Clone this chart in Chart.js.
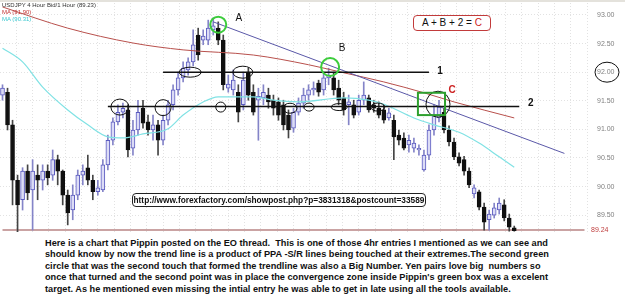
<!DOCTYPE html>
<html><head><meta charset="utf-8">
<script src="https://cdn.jsdelivr.net/npm/chart.js@4.4.1/dist/chart.umd.min.js"></script>
<style>
html,body{margin:0;padding:0;background:#fff;}
#wrap{position:relative;width:625px;height:306px;overflow:hidden;background:#fff;font-family:"Liberation Sans",Arial,sans-serif;}
#c{position:absolute;left:0;top:0;}
#strip{position:absolute;left:0;top:0;width:625px;height:2px;background:#e4e2dc;}
.leg{position:absolute;left:2px;font-size:6px;line-height:7px;white-space:nowrap;}
#eq{position:absolute;left:413px;top:15px;width:76px;height:14px;border:1.5px solid #c23b3b;border-radius:4px;font-size:10px;line-height:14px;text-align:center;color:#111;background:#fff;}
#url{position:absolute;left:132px;top:193px;width:292px;height:12px;border:1.5px solid #222;border-radius:4px;font-size:8.3px;font-weight:bold;line-height:12px;text-align:center;background:#fff;color:#111;}
#txt{position:absolute;left:45px;top:237.5px;font-size:9.2px;font-weight:bold;line-height:11.5px;white-space:pre;color:#111;}
</style></head>
<body><div id="wrap">
<canvas id="c" width="625" height="232"></canvas>
<div id="strip"></div>
<div class="leg" style="top:2px;color:#333">USDJPY 4 Hour Bid/1 Hour (89.23)</div>
<div class="leg" style="top:9px;color:#c03030">MA (91.90)</div>
<div class="leg" style="top:16px;color:#3cc8d0">MA (90.31)</div>
<div id="eq">A + B + 2 = <span style="color:#cc2222">C</span></div>
<div id="url">http://www.forexfactory.com/showpost.php?p=3831318&amp;postcount=33589</div>
<div id="txt">Here is a chart that Pippin posted on the EO thread.  This is one of those 4hr entries I mentioned as we can see and
should know by now the trend line is a product of PPA -S/R lines being touched at their extremes.The second green
circle that was the second touch that formed the trendline was also a Big Number. Yen pairs love big  numbers so
once that turned and the second point was in place the convergence zone inside Pippin's green box was a excelent
target. As he mentioned even missing the intial entry he was able to get in late using all the tools available.</div>
</div>
<script>
// ---- data (USDJPY 4h candles) ----
const opens  = [91.60,91.65,91.08,90.11,89.77,90.27,89.94,90.20,90.11,90.27,90.20,90.47,90.27,89.85,89.59,89.85,90.20,90.33,90.11,89.91,
                89.94,90.38,90.81,91.13,91.30,91.34,90.67,90.99,91.37,91.13,90.99,91.08,90.81,91.16,91.43,91.69,91.90,92.04,92.18,92.65,
                92.56,92.56,92.74,92.77,92.56,91.72,91.69,91.65,91.43,92.00,91.65,91.51,91.55,91.60,91.51,91.48,91.43,91.25,91.02,91.30,
                91.46,91.60,91.69,91.81,91.69,91.90,91.90,91.72,91.55,91.43,91.43,91.30,91.51,91.55,91.43,91.37,91.34,91.20,91.16,90.90,
                90.85,90.73,90.67,90.64,90.29,90.55,90.99,91.20,91.30,90.99,90.78,90.52,90.47,90.27,89.87,89.91,89.64,89.42,89.50,89.59,
                89.68,89.45,89.28];
const closes = [91.72,91.08,90.11,89.68,90.27,89.89,90.27,90.11,90.27,90.15,90.47,90.27,89.85,89.54,89.85,90.20,90.27,90.11,89.91,89.98,
                90.38,90.81,91.13,91.30,91.37,90.64,90.99,91.30,91.11,90.99,91.08,90.81,91.16,91.43,91.69,91.90,92.07,92.18,92.48,92.30,
                92.63,92.77,92.81,92.56,91.78,91.79,91.86,91.30,91.86,91.60,91.30,91.58,91.65,91.48,91.37,91.25,91.08,90.99,91.30,91.46,
                91.60,91.69,91.72,91.65,91.90,91.95,91.69,91.51,91.34,91.48,91.25,91.51,91.60,91.34,91.37,91.25,91.16,91.29,90.87,90.81,
                90.67,90.81,90.76,90.67,90.55,90.99,91.25,91.39,90.99,90.78,90.52,90.41,90.27,90.03,89.98,89.64,89.38,89.52,89.63,89.71,
                89.45,89.29,89.23];
const highs  = [91.78,91.72,91.16,90.20,90.33,90.38,90.47,90.38,90.38,90.38,90.64,90.55,90.29,89.94,90.03,90.29,90.38,90.55,90.20,90.11,
                90.47,90.90,91.20,91.43,91.46,91.43,91.16,91.51,91.51,91.25,91.25,91.16,91.25,91.51,91.78,92.00,92.18,92.25,92.74,92.77,
                92.74,92.91,92.95,92.88,92.65,91.95,92.04,91.78,92.00,92.07,91.78,91.72,91.78,91.72,91.60,91.55,91.51,91.34,91.37,91.55,
                91.72,91.78,91.83,91.86,92.00,92.07,92.00,91.86,91.65,91.60,91.51,91.60,91.83,91.60,91.51,91.48,91.43,91.37,91.25,90.99,
                90.94,90.90,90.85,90.73,90.64,91.08,91.43,91.51,91.37,91.06,90.85,90.59,90.53,90.33,90.03,89.94,89.71,89.59,89.71,89.80,
                89.77,89.52,89.31];
const lows   = [91.51,90.99,89.68,89.21,89.59,89.77,89.24,89.77,89.94,90.03,90.11,90.03,89.68,89.33,89.42,89.77,90.03,90.03,89.77,89.85,
                89.91,90.29,90.73,91.08,91.20,90.52,90.55,90.90,91.02,90.90,90.81,90.55,90.73,91.08,91.34,91.60,91.83,91.95,92.11,92.21,
                92.48,92.48,92.65,92.48,91.69,91.65,91.60,91.13,91.34,91.51,91.25,90.81,91.43,91.37,91.25,91.16,90.99,90.85,90.95,91.25,
                91.37,91.51,91.60,91.58,91.60,91.78,91.60,91.43,91.25,91.08,91.20,91.25,91.43,91.30,91.30,91.20,91.11,91.16,90.47,90.73,
                90.64,90.60,90.60,90.55,90.27,90.47,90.90,91.13,90.94,90.71,90.47,90.36,90.20,89.98,89.80,89.59,89.24,89.24,89.45,89.52,
                89.40,89.22,89.22];
// moving averages, read at these candle indices
const maSlowIdx = [0,13,26,36,50,61,68,76,84,90,102];
const maSlow    = [93.14,92.77,92.51,92.39,92.30,92.13,91.99,91.83,91.64,91.48,91.20];
const maFastIdx = [0,4,8,13,17,21,24,28,33,36,40,43,50,54,59,68,73,76,82,86,91,95,99,102];
const maFast    = [92.42,92.18,91.74,91.34,91.08,90.87,90.85,90.92,91.01,91.25,91.48,91.57,91.57,91.51,91.48,91.55,91.51,91.44,91.20,91.08,90.95,90.76,90.52,90.34];
// drawn lines: trendline A->B, levels 1 and 2, support
const trendIdx = [42,112];  const trendVal = [92.88,90.58];
const level1Idx = [32,85];  const level1Val = [92.00,92.00];
const level2Idx = [21,103]; const level2Val = [91.40,91.40];
const supportIdx = [0,116]; const supportVal = [89.24,89.24];
const yTicks = [89.50,90.00,90.50,91.00,91.50,92.00,92.50,93.00];
const lastPrice = 89.24;
const slotCount = 117;

// ---- build ----
const labels = Array.from({length: slotCount}, (_, i) => String(i));
const up = opens.map((o, i) => closes[i] >= o);
const pts = (idx, val) => idx.map((k, j) => ({x: String(k), y: val[j]}));

const annot = {
  ellipses: [
    {i:23.4,p:91.39,rx:9,ry:8},{i:32.0,p:91.38,rx:8,ry:8},{i:37.4,p:92.00,rx:11,ry:5},
    {i:47.9,p:92.00,rx:10,ry:6},{i:43.5,p:91.39,rx:5,ry:5},{i:57.3,p:91.37,rx:7,ry:5},
    {i:61.1,p:91.39,rx:5,ry:4},{i:67.1,p:91.39,rx:8,ry:3.5},{i:74.8,p:91.39,rx:7,ry:4},
    {i:86.8,p:91.44,rx:12,ry:13}
  ],
  greens: [{i:43.0,p:92.83,r:8},{i:65.3,p:92.09,r:9}],
  box: {i0:82.8,i1:88.2,p0:91.64,p1:91.25},
  texts: [
    {t:'A',i:47.1,p:92.95,c:'#111',f:'10px "Liberation Sans"'},
    {t:'B',i:67.7,p:92.41,c:'#111',f:'10px "Liberation Sans"'},
    {t:'C',i:89.6,p:91.69,c:'#cc2222',f:'bold 10px "Liberation Sans"'},
    {t:'1',i:87.2,p:92.02,c:'#111',f:'bold 10px "Liberation Sans"'},
    {t:'2',i:105.3,p:91.46,c:'#111',f:'bold 10px "Liberation Sans"'}
  ]
};

const overlay = {
  id: 'overlay',
  afterDatasetsDraw(chart) {
    const {ctx} = chart; const x = chart.scales.x, y = chart.scales.y;
    const px = v => x.getPixelForValue(v), py = v => y.getPixelForValue(v);
    ctx.save();
    ctx.strokeStyle = '#111'; ctx.lineWidth = 1;
    for (const e of annot.ellipses) { ctx.beginPath(); ctx.ellipse(px(e.i), py(e.p), e.rx, e.ry, 0, 0, Math.PI*2); ctx.stroke(); }
    ctx.strokeStyle = '#3ccc3c'; ctx.lineWidth = 2;
    for (const g of annot.greens) { ctx.beginPath(); ctx.arc(px(g.i), py(g.p), g.r, 0, Math.PI*2); ctx.stroke(); }
    ctx.strokeStyle = '#2ea02e';
    const b = annot.box; ctx.strokeRect(px(b.i0), py(b.p0), px(b.i1)-px(b.i0), py(b.p1)-py(b.p0));
    ctx.textAlign = 'center'; ctx.textBaseline = 'middle';
    for (const t of annot.texts) { ctx.font = t.f; ctx.fillStyle = t.c; ctx.fillText(t.t, px(t.i), py(t.p)); }
    ctx.font = '7px "Liberation Sans"'; ctx.textAlign = 'left'; ctx.fillStyle = '#c04040';
    ctx.fillText(lastPrice.toFixed(2), chart.chartArea.right + 4, py(lastPrice));
    ctx.strokeStyle = '#111'; ctx.lineWidth = 1;
    ctx.beginPath(); ctx.ellipse(chart.chartArea.right + 20, py(92.00), 12, 10, 0, 0, Math.PI*2); ctx.stroke();
    ctx.restore();
  }
};

new Chart(document.getElementById('c'), {
  type: 'bar',
  data: {
    labels,
    datasets: [
      {type:'line', data: pts(supportIdx, supportVal), borderColor:'#caa3a3', borderWidth:2, pointRadius:0, order:9},
      {data: lows.map((l, i) => [l, highs[i]]), backgroundColor: up.map(u => u ? '#8484c8' : '#444'),
       barThickness:1, grouped:false, order:8},
      {data: opens.map((o, i) => [o, closes[i]]), backgroundColor: up.map(u => u ? '#dcdcf6' : '#101010'),
       borderColor: up.map(u => u ? '#5a5abf' : '#101010'), borderWidth:1, borderSkipped:false,
       barThickness:4, grouped:false, order:7},
      {type:'line', data: pts(maSlowIdx, maSlow), borderColor:'#b8504c', borderWidth:1, pointRadius:0, spanGaps:true, cubicInterpolationMode:'monotone', order:3},
      {type:'line', data: pts(maFastIdx, maFast), borderColor:'#80e2e4', borderWidth:1.2, pointRadius:0, spanGaps:true, cubicInterpolationMode:'monotone', order:3},
      {type:'line', data: pts(trendIdx, trendVal), borderColor:'#5a58a8', borderWidth:1, pointRadius:0, order:2},
      {type:'line', data: pts(level1Idx, level1Val), borderColor:'#111', borderWidth:1.5, pointRadius:0, order:1},
      {type:'line', data: pts(level2Idx, level2Val), borderColor:'#111', borderWidth:1.5, pointRadius:0, order:1}
    ]
  },
  options: {
    responsive:false, animation:false,
    layout:{padding:0, autoPadding:false},
    plugins:{legend:{display:false}, tooltip:{enabled:false}},
    scales:{
      x:{display:false, offset:true},
      xg:{type:'linear', axis:'x', position:'bottom', min:0, max:35, display:true,
          ticks:{display:false, stepSize:1}, grid:{color:'#e2e2e2', drawTicks:false}, border:{display:false, dash:[1,2]},
          afterFit(s){ s.height = 0; s.paddingLeft = 0; s.paddingRight = 0; }},
      y:{type:'linear', position:'right', min:89.206, max:93.262,
         afterBuildTicks(s){ s.ticks = yTicks.map(v => ({value:v})); },
         ticks:{callback:v => Number(v).toFixed(2), color:'#808080', font:{size:7, family:'"Liberation Sans"'}, padding:10},
         grid:{color:'#e2e2e2', drawTicks:false}, border:{display:false, dash:[1,2]},
         afterFit(s){ s.width = 38; s.paddingTop = 0; s.paddingBottom = 0; }}
    }
  },
  plugins:[overlay]
});
</script>
</body></html>
